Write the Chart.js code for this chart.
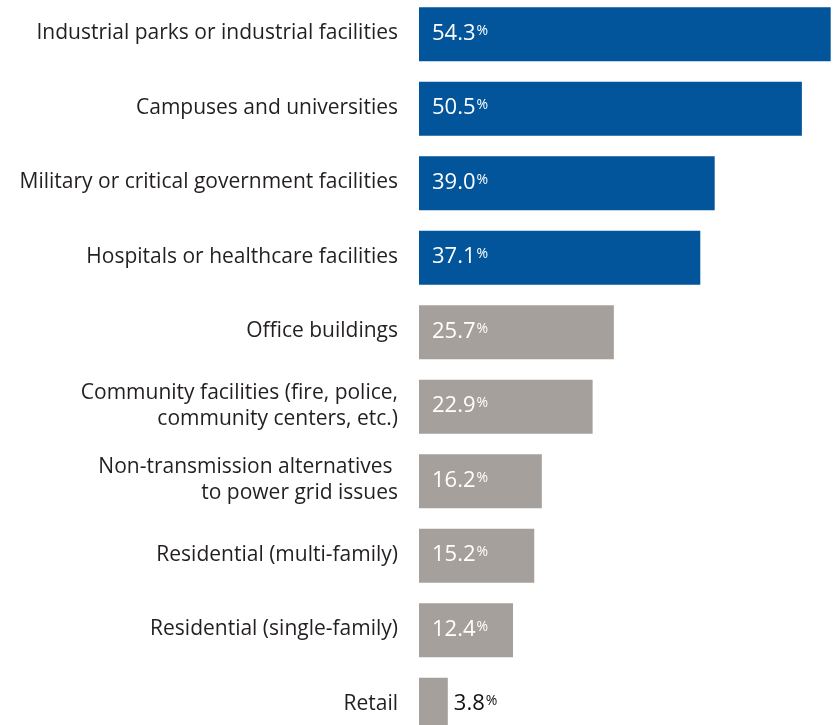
<!DOCTYPE html>
<html>
<head>
<meta charset="utf-8">
<script src="https://cdn.jsdelivr.net/npm/chart.js@4"></script>
<style>
  html, body { margin: 0; padding: 0; background: #fff; overflow: hidden; }
  body { width: 837px; height: 725px; position: relative; }
  #wrap { position: absolute; left: 0; top: -4px; width: 837px; height: 746px; }
</style>
</head>
<body>
<div id="wrap"><canvas id="useChart"></canvas></div>
<script>
// survey answers, share of respondents (%)
const categories = [
    'Industrial parks or industrial facilities',
    'Campuses and universities',
    'Military or critical government facilities',
    'Hospitals or healthcare facilities',
    'Office buildings',
    ['Community facilities (fire, police,', 'community centers, etc.)'],
    ['Non-transmission alternatives ', 'to power grid issues'],
    'Residential (multi-family)',
    'Residential (single-family)',
    'Retail'
];
const values = [54.3, 50.5, 39.0, 37.1, 25.7, 22.9, 16.2, 15.2, 12.4, 3.8];
const topGroupSize = 4;

const BLUE = '#02559a';
const GRAY = '#a6a09d';
const TEXT = '#231f20';
const FONT = '"Open Sans", Lato, sans-serif';

// value labels: number plus a smaller raised % sign
const valueLabels = {
    id: 'valueLabels',
    afterDatasetsDraw(chart) {
        const ctx = chart.ctx;
        const meta = chart.getDatasetMeta(0);
        ctx.save();
        meta.data.forEach((bar, i) => {
            const num = values[i].toFixed(1);
            ctx.font = '22px ' + FONT;
            const numW = ctx.measureText(num).width;
            ctx.font = '14px ' + FONT;
            const pctW = ctx.measureText('%').width;
            const inside = (bar.x - bar.base) > numW + pctW + 24;
            const x = inside ? bar.base + 13 : bar.x + 6;
            ctx.fillStyle = inside ? '#ffffff' : '#111111';
            ctx.textAlign = 'left';
            ctx.textBaseline = 'alphabetic';
            ctx.font = '22px ' + FONT;
            ctx.fillText(num, x, bar.y + 5.5);
            ctx.font = '14px ' + FONT;
            ctx.fillText('%', x + numW + 1, bar.y + 0.5);
        });
        ctx.restore();
    }
};

new Chart(document.getElementById('useChart').getContext('2d'), {
    type: 'bar',
    data: {
        labels: categories,
        datasets: [{
            data: values,
            backgroundColor: values.map((v, i) => i < topGroupSize ? BLUE : GRAY),
            borderWidth: 0,
            categoryPercentage: 1,
            barPercentage: 0.725
        }]
    },
    options: {
        indexAxis: 'y',
        responsive: true,
        maintainAspectRatio: false,
        animation: false,
        layout: { padding: { top: 1, right: 1, bottom: 0, left: 0 } },
        plugins: {
            legend: { display: false },
            tooltip: { enabled: false }
        },
        scales: {
            x: {
                display: false,
                min: 0,
                max: 55
            },
            y: {
                grid: { display: false, drawTicks: false },
                border: { display: false },
                afterFit(scale) {
                    scale.width = 419;
                    // labels may overhang the first and last bars
                    scale.paddingTop = 0;
                    scale.paddingBottom = 0;
                },
                ticks: {
                    color: TEXT,
                    padding: 21,
                    labelOffset: -1,
                    font: { family: FONT, size: 21, lineHeight: 1.25 }
                }
            }
        }
    },
    plugins: [valueLabels]
});
</script>
</body>
</html>
